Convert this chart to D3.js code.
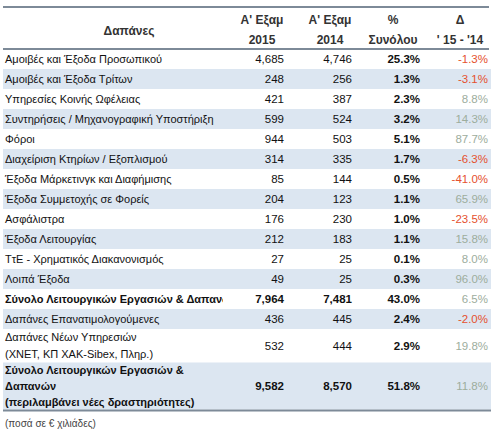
<!DOCTYPE html>
<html><head><meta charset="utf-8">
<script src="https://cdn.jsdelivr.net/npm/d3@7"></script>
<style>
html,body{margin:0;padding:0;background:#fff;}
svg{display:block;font-family:"Liberation Sans",Arial,sans-serif;}
</style></head>
<body>
<svg id="chart" width="491" height="432"></svg>
<script>
const headers = [["Δαπάνες"], ["A' Εξαμ", "2015"], ["A' Εξαμ", "2014"], ["%", "Συνόλου"], ["Δ", "' 15 - '14"]];
const categories = [
  ["Αμοιβές και Έξοδα Προσωπικού"],
  ["Αμοιβές και Έξοδα Τρίτων"],
  ["Υπηρεσίες Κοινής Ωφέλειας"],
  ["Συντηρήσεις / Μηχανογραφική Υποστήριξη"],
  ["Φόροι"],
  ["Διαχείριση Κτηρίων / Εξοπλισμού"],
  ["Έξοδα Μάρκετινγκ και Διαφήμισης"],
  ["Έξοδα Συμμετοχής σε Φορείς"],
  ["Ασφάλιστρα"],
  ["Έξοδα Λειτουργίας"],
  ["ΤτΕ - Χρηματικός Διακανονισμός"],
  ["Λοιπά Έξοδα"],
  ["Σύνολο Λειτουργικών Εργασιών & Δαπανών"],
  ["Δαπάνες Επανατιμολογούμενες"],
  ["Δαπάνες Νέων Υπηρεσιών", "(ΧΝΕΤ, ΚΠ ΧΑΚ-Sibex, Πληρ.)"],
  ["Σύνολο Λειτουργικών Εργασιών &", "Δαπανών", "(περιλαμβάνει νέες δραστηριότητες)"]
];
const values2015 = [4685, 248, 421, 599, 944, 314, 85, 204, 176, 212, 27, 49, 7964, 436, 532, 9582];
const values2014 = [4746, 256, 387, 524, 503, 335, 144, 123, 230, 183, 25, 25, 7481, 445, 444, 8570];
const shareOfTotal = [25.3, 1.3, 2.3, 3.2, 5.1, 1.7, 0.5, 1.1, 1.0, 1.1, 0.1, 0.3, 43.0, 2.4, 2.9, 51.8];
const changePct = [-1.3, -3.1, 8.8, 14.3, 87.7, -6.3, -41.0, 65.9, -23.5, 15.8, 8.0, 96.0, 6.5, -2.0, 19.8, 11.8];
const boldRows = [12, 15];
const footnote = "(ποσά σε € χιλιάδες)";

const svg = d3.select("#chart");
const left = 3, right = 489, headBottom = 49;
const fmtInt = d3.format(",");
const fmtPct = v => v.toFixed(1) + "%";
const borderColor = "#7d8a98";
const shade = "#dce6f1";
const red = "#e5502e";
const green = "#9dad9d";
const textColor = "#111";

// row geometry from number of lines
const rowH = n => 20 + 13.5 * (n - 1);
const rows = categories.map((c, i) => ({i, lines: c, h: rowH(c.length)}));
let acc = headBottom;
rows.forEach(r => { r.y = acc; acc += r.h; });
const tableBottom = acc;

// column scale for numeric columns (right edges)
const numCols = ["c2015", "c2014", "share", "change"];
const x = d3.scalePoint().domain(numCols).range([284, 488]);
const colCenters = {c2015: 262, c2014: 330, share: 393, change: 460};

svg.append("defs").append("clipPath").attr("id", "c1")
  .append("rect").attr("x", 0).attr("y", 0).attr("width", 223).attr("height", 432);

// row backgrounds
svg.selectAll("rect.bg").data(rows).join("rect")
  .attr("class", "bg")
  .attr("x", left).attr("width", right - left + 2)
  .attr("y", d => d.y).attr("height", d => d.h)
  .attr("fill", d => d.i % 2 === 1 ? shade : "#fff");

// borders
svg.append("rect").attr("x", left).attr("y", 6).attr("width", right - left).attr("height", 2).attr("fill", borderColor);
svg.append("rect").attr("x", left).attr("y", 48).attr("width", right - left).attr("height", 2).attr("fill", borderColor);
svg.append("rect").attr("x", left).attr("y", tableBottom).attr("width", right - left + 2).attr("height", 2).attr("fill", borderColor);

// headers
const hdr = svg.append("g").attr("font-weight", "bold").attr("font-size", 12).attr("fill", "#333").attr("text-anchor", "middle");
hdr.append("text").attr("x", 129).attr("y", 35).text(headers[0][0]);
numCols.forEach((c, k) => {
  const h = headers[k + 1];
  h.forEach((line, j) => {
    hdr.append("text").attr("x", colCenters[c]).attr("y", 24 + j * 20).text(line);
  });
});

// first column
const g1 = svg.append("g").attr("clip-path", "url(#c1)").attr("font-size", 11).attr("fill", textColor);
rows.forEach(r => {
  const n = r.lines.length;
  const lh = n === 1 ? 0 : (n === 2 ? 17 : 16);
  const start = r.y + r.h / 2 - (n - 1) * lh / 2 + 4;
  r.lines.forEach((line, j) => {
    g1.append("text").attr("x", 5).attr("y", start + j * lh)
      .attr("font-weight", boldRows.includes(r.i) ? "bold" : "normal")
      .text(line);
  });
});

// numeric columns
const g2 = svg.append("g").attr("font-size", 11.5).attr("text-anchor", "end");
rows.forEach(r => {
  const cy = r.y + r.h / 2 + 4;
  const b = boldRows.includes(r.i);
  g2.append("text").attr("x", x("c2015")).attr("y", cy).attr("fill", textColor)
    .attr("font-weight", b ? "bold" : "normal").text(fmtInt(values2015[r.i]));
  g2.append("text").attr("x", x("c2014")).attr("y", cy).attr("fill", textColor)
    .attr("font-weight", b ? "bold" : "normal").text(fmtInt(values2014[r.i]));
  g2.append("text").attr("x", x("share")).attr("y", cy).attr("fill", textColor)
    .attr("font-weight", "bold").text(fmtPct(shareOfTotal[r.i]));
  g2.append("text").attr("x", x("change")).attr("y", cy)
    .attr("fill", changePct[r.i] < 0 ? red : green)
    .text(fmtPct(changePct[r.i]));
});

svg.append("text").attr("x", 5).attr("y", 427).attr("font-size", 10).attr("fill", "#444").text(footnote);
</script>
</body></html>
